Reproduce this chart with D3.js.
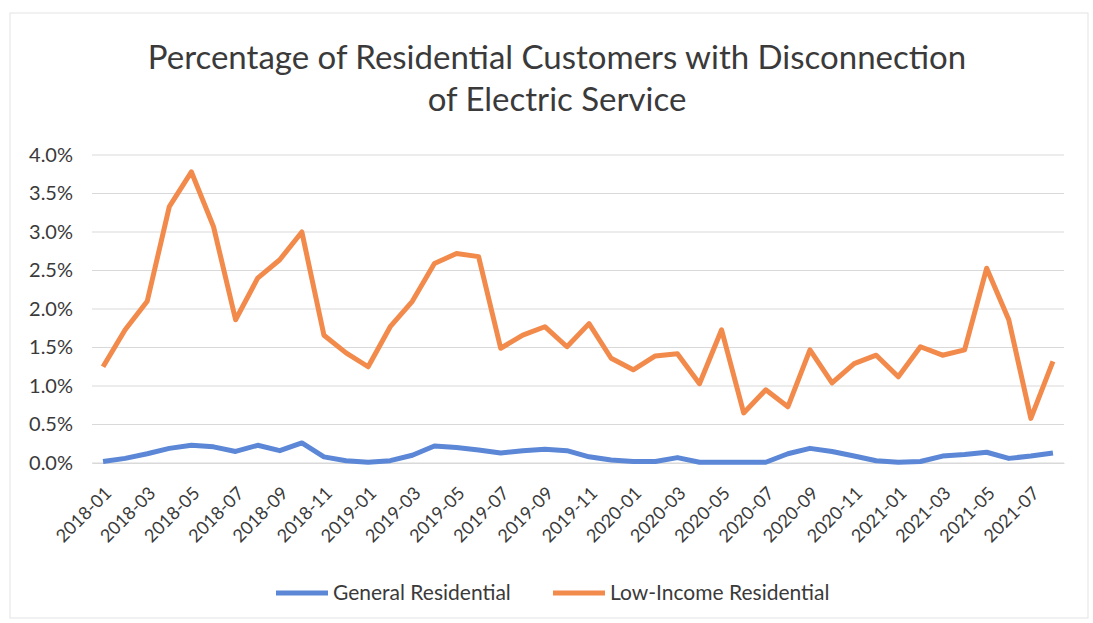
<!DOCTYPE html>
<html>
<head>
<meta charset="utf-8">
<script src="https://cdn.jsdelivr.net/npm/d3@7"></script>
<style>
  body { margin: 0; background: #fff; }
  text { font-family: Lato, "Open Sans", sans-serif; fill: #3a3a3a; }
</style>
</head>
<body>
<div id="chart"></div>
<script>
// monthly values (percent)
var months = [];
for (var yr = 2018; yr <= 2021; yr++) {
  for (var m = 1; m <= 12; m++) {
    if (yr === 2021 && m > 8) break;
    months.push(yr + "-" + (m < 10 ? "0" + m : m));
  }
}

var generalRes = [0.02, 0.06, 0.12, 0.19, 0.23, 0.21, 0.15, 0.23, 0.16, 0.26,
  0.08, 0.03, 0.01, 0.03, 0.10, 0.22, 0.20, 0.17, 0.13, 0.16,
  0.18, 0.16, 0.08, 0.04, 0.02, 0.02, 0.07, 0.01, 0.01, 0.01,
  0.01, 0.12, 0.19, 0.15, 0.09, 0.03, 0.01, 0.02, 0.09, 0.11,
  0.14, 0.06, 0.09, 0.13];

var lowIncome = [1.25, 1.73, 2.10, 3.33, 3.78, 3.07, 1.86, 2.40, 2.64, 3.00,
  1.66, 1.43, 1.25, 1.77, 2.10, 2.59, 2.72, 2.68, 1.49, 1.66,
  1.77, 1.51, 1.81, 1.36, 1.21, 1.39, 1.42, 1.03, 1.73, 0.65,
  0.95, 0.73, 1.47, 1.04, 1.29, 1.40, 1.12, 1.51, 1.40, 1.47,
  2.53, 1.86, 0.58, 1.32];

var yTicks = [0, 0.5, 1, 1.5, 2, 2.5, 3, 3.5, 4];
var titleLines = ["Percentage of Residential Customers with Disconnection", "of Electric Service"];

var series = [
  { name: "General Residential", values: generalRes, color: "#5b87d6" },
  { name: "Low-Income Residential", values: lowIncome, color: "#f28a4c" }
];

var W = 1093, H = 623;
var margin = { top: 155, right: 29, bottom: 160, left: 92 };
var width = W - margin.left - margin.right,
  height = H - margin.top - margin.bottom;

var svg = d3.select("#chart").append("svg")
  .attr("width", W)
  .attr("height", H);

// chart area border
svg.append("rect")
  .attr("x", 10).attr("y", 13)
  .attr("width", W - 15).attr("height", H - 18)
  .attr("fill", "none")
  .attr("stroke", "#e3e3e3");

var g = svg.append("g")
  .attr("transform", "translate(" + margin.left + "," + margin.top + ")");

var x = d3.scaleBand()
  .domain(months)
  .range([0, width]);

var y = d3.scaleLinear()
  .domain([0, 4])
  .range([height, 0]);

// gridlines
g.append("g")
  .selectAll("line")
  .data(yTicks)
  .enter().append("line")
    .attr("x1", 0).attr("x2", width)
    .attr("y1", function (d) { return y(d); })
    .attr("y2", function (d) { return y(d); })
    .attr("stroke", "#d9d9d9")
    .attr("stroke-width", 1);

// y axis labels
var yAxis = g.append("g")
  .call(d3.axisLeft(y).tickValues(yTicks).tickSize(0).tickPadding(19)
    .tickFormat(function (d) { return d.toFixed(1) + "%"; }));
yAxis.select(".domain").remove();
yAxis.selectAll("text")
  .style("font-size", "20px")
  .attr("fill", "#3a3a3a");

// x axis
var xAxis = g.append("g")
  .attr("transform", "translate(0," + height + ")")
  .call(d3.axisBottom(x)
    .tickValues(months.filter(function (d, i) { return i % 2 === 0; }))
    .tickSize(0));
xAxis.select(".domain").attr("stroke", "#d9d9d9");
xAxis.selectAll("text")
  .style("font-size", "18px")
  .style("text-anchor", "end")
  .attr("fill", "#3a3a3a")
  .attr("y", 0)
  .attr("dy", "0.35em")
  .attr("transform", "translate(5,27) rotate(-45)");

// lines
var line = d3.line()
  .x(function (d, i) { return x(months[i]) + x.bandwidth() / 2; })
  .y(function (d) { return y(d); });

g.selectAll(".series")
  .data(series)
  .enter().append("path")
    .attr("class", "series")
    .attr("d", function (s) { return line(s.values); })
    .attr("fill", "none")
    .attr("stroke", function (s) { return s.color; })
    .attr("stroke-width", 5)
    .attr("stroke-linejoin", "round");

// title
svg.append("g").selectAll("text")
  .data(titleLines)
  .enter().append("text")
    .attr("x", 557)
    .attr("y", function (d, i) { return 69 + i * 42; })
    .attr("text-anchor", "middle")
    .style("font-size", "33px")
    .style("font-weight", 400)
    .text(function (d) { return d; });

// legend
var legendX = [276, 553];
var legend = svg.append("g").selectAll("g")
  .data(series)
  .enter().append("g")
    .attr("transform", function (d, i) { return "translate(" + legendX[i] + ",593)"; });
legend.append("line")
  .attr("x1", 0).attr("x2", 52)
  .attr("stroke", function (d) { return d.color; })
  .attr("stroke-width", 5);
legend.append("text")
  .attr("x", 57)
  .attr("dy", "0.35em")
  .style("font-size", "21px")
  .text(function (d) { return d.name; });
</script>
</body>
</html>
